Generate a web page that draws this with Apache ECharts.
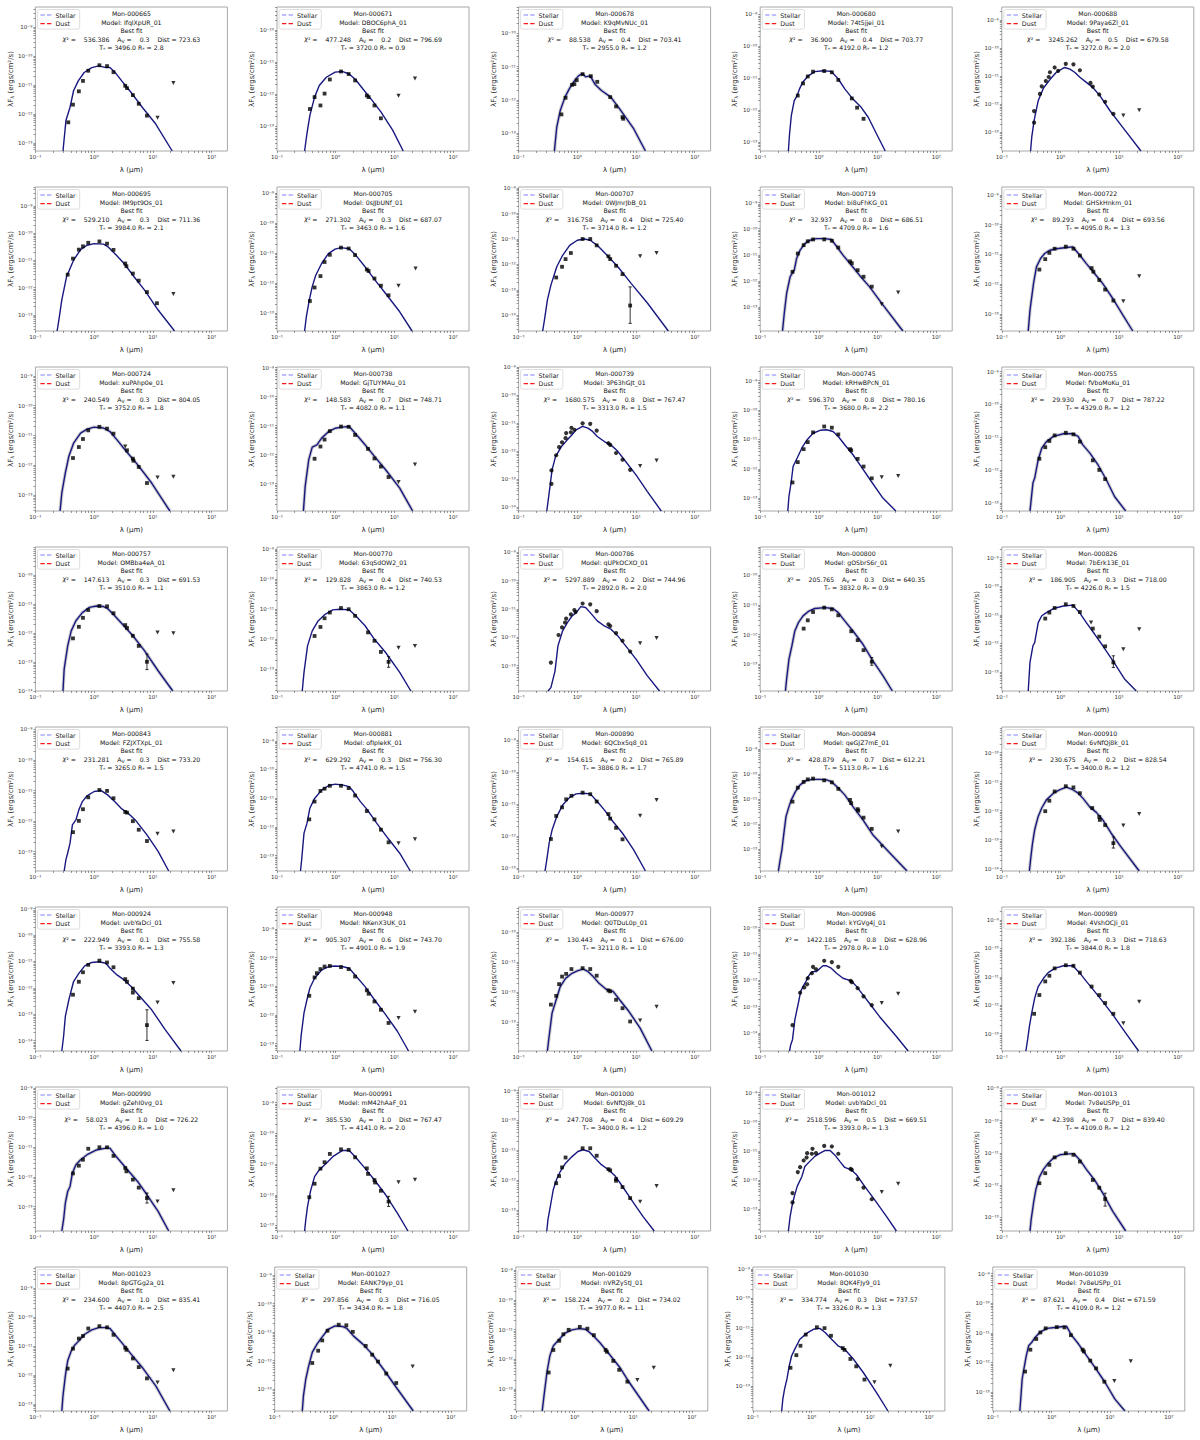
<!DOCTYPE html>
<html><head><meta charset="utf-8">
<script src="https://cdn.jsdelivr.net/npm/echarts@6/dist/echarts.min.js"></script>
<style>html,body{margin:0;padding:0;background:#fff}#c{width:1200px;height:1440px}</style>
</head><body><div id="c"></div>
<script>
// ---------- DATA (all fluxes / wavelengths are log10 values: log10(lambda/um), log10(lambda F_lambda / erg cm^-2 s^-1)) ----------
const ids = ['Mon-000665','Mon-000671','Mon-000678','Mon-000680','Mon-000688','Mon-000695','Mon-000705','Mon-000707','Mon-000719','Mon-000722',
'Mon-000724','Mon-000738','Mon-000739','Mon-000745','Mon-000755','Mon-000757','Mon-000770','Mon-000786','Mon-000800','Mon-000826',
'Mon-000843','Mon-000881','Mon-000890','Mon-000894','Mon-000910','Mon-000924','Mon-000948','Mon-000977','Mon-000986','Mon-000989',
'Mon-000990','Mon-000991','Mon-001000','Mon-001012','Mon-001013','Mon-001023','Mon-001027','Mon-001029','Mon-001030','Mon-001039'];
const models = ['IfqlXpUR_01','DBOC6phA_01','K9qMvNUc_01','74t5jjei_01','9Paya6Zl_01','IM9pt9Os_01','0sJJbUNf_01','0WJmrJbB_01','bi8uFhKG_01','GHSkHnkm_01',
'xuPAhp0e_01','GjTUYMAu_01','3P63hGJt_01','kRHwBPcN_01','fVboMoKu_01','OMBba4eA_01','63qSdOW2_01','qUPkOCXO_01','gOSbrS6r_01','7bErk13E_01',
'FZJXTXpL_01','ofIpIekK_01','6QCbx5q8_01','qeGJZ7mE_01','6vNfQj8k_01','uvbYaDci_01','NKenX3UK_01','Q0TDuL0p_01','kYGVg4j_01','4VshOCJi_01',
'gZehI0vg_01','mM42hAaF_01','6vNfQj8k_01','uvbYaDci_01','7v8eUSPp_01','8pGTGg2a_01','EANK79yp_01','nVRZy5tJ_01','8QK4FJy9_01','7v8eUSPp_01'];
const chi2 = [536.386,477.248,88.538,36.900,3245.262,529.210,271.302,316.758,32.937,89.293,
240.549,148.583,1680.575,596.370,29.930,147.613,129.828,5297.889,205.765,186.905,
231.281,629.292,154.615,428.879,230.675,222.949,905.307,130.443,1422.185,392.186,
58.023,385.530,247.708,2518.596,42.398,234.600,297.856,158.224,334.774,87.621];
const av = [0.3,0.2,0.4,0.4,0.5,0.3,0.3,0.4,0.8,0.4, 0.3,0.7,0.8,0.8,0.7,0.3,0.4,0.2,0.3,0.3,
0.3,0.3,0.2,0.7,0.2,0.1,0.6,0.1,0.8,0.3, 1.0,1.0,0.4,0.5,0.7,1.0,0.3,0.2,0.3,0.4];
const dist = [723.63,796.69,703.41,703.77,679.58,711.36,687.07,725.40,686.51,693.56,
804.05,748.71,767.47,780.16,787.22,691.53,740.53,744.96,640.35,718.00,
733.20,756.30,765.89,612.21,828.54,755.58,743.70,676.00,628.96,718.63,
726.22,767.47,609.29,669.51,839.40,835.41,716.05,734.02,737.57,671.59];
const teff = [3496,3720,2955,4192,3272,3984,3463,3714,4709,4095, 3752,4082,3313,3680,4329,3510,3863,2892,3832,4226,
3265,4741,3886,5113,3400,3393,4901,3211,2978,3844, 4396,4141,3400,3393,4109,4407,3434,3977,3326,4109];
const rstar = [2.8,0.9,1.2,1.2,2.0,2.1,1.6,1.2,1.6,1.3, 1.8,1.1,1.5,2.2,1.2,1.1,1.2,2.0,0.9,1.5,
1.5,1.5,1.7,1.6,1.2,1.3,1.9,1.0,1.0,1.8, 1.0,2.0,1.2,1.3,1.2,2.5,1.8,1.1,1.3,1.2];
// y-axis limits (log10 lambda F_lambda)
const yTop = [-8.31,-9.28,-9.21,-8.77,-8.54,-8.30,-8.80,-8.96,-8.40,-8.74, -8.70,-8.98,-8.99,-8.54,-8.86,-9.02,-8.94,-8.82,-9.04,-8.63,
-8.92,-8.52,-8.59,-8.11,-9.12,-8.94,-8.23,-9.17,-9.22,-8.54, -8.97,-8.49,-8.88,-8.81,-8.96,-8.26,-8.72,-8.89,-8.94,-8.78];
const yBottom = [-13.28,-13.77,-13.54,-13.29,-13.66,-13.59,-13.60,-14.61,-13.92,-13.57, -13.54,-13.94,-14.13,-13.43,-13.24,-14.00,-13.73,-13.89,-13.91,-13.66,
-13.63,-13.54,-13.09,-13.86,-14.08,-14.39,-13.26,-13.95,-14.68,-13.61, -13.82,-13.18,-13.70,-13.75,-13.42,-13.25,-13.76,-13.75,-13.84,-13.64];
// x-axis ticks (log10 lambda)
const xTickValues = [-1,0,1,2];
// best-fit model SEDs
const fitCurves = [
[[-0.53,-13.28],[-0.48,-12.23],[-0.41,-11.77],[-0.35,-11.2],[-0.27,-10.86],[-0.17,-10.57],[-0.04,-10.4],[0.08,-10.34],[0.2,-10.4],[0.27,-10.4],[0.35,-10.55],[0.47,-10.86],[0.63,-11.26],[0.82,-11.77],[1.05,-12.35],[1.33,-13.28]],
[[-0.53,-13.77],[-0.49,-13.23],[-0.44,-12.66],[-0.36,-12.09],[-0.28,-11.73],[-0.16,-11.47],[-0.01,-11.31],[0.11,-11.29],[0.23,-11.37],[0.34,-11.55],[0.46,-11.83],[0.62,-12.19],[0.77,-12.55],[0.97,-13.12],[1.15,-13.77]],
[[-0.39,-13.54],[-0.35,-12.82],[-0.29,-12.32],[-0.21,-11.92],[-0.13,-11.65],[-0.05,-11.43],[0.02,-11.28],[0.09,-11.21],[0.14,-11.31],[0.22,-11.28],[0.30,-11.53],[0.41,-11.72],[0.57,-11.92],[0.69,-12.2],[0.80,-12.47],[0.96,-12.87],[1.16,-13.54]],
[[-0.52,-13.29],[-0.5,-12.75],[-0.47,-12.18],[-0.42,-11.71],[-0.37,-11.55],[-0.33,-11.34],[-0.28,-11.14],[-0.18,-10.93],[-0.07,-10.8],[0.07,-10.77],[0.21,-10.79],[0.33,-11.03],[0.44,-11.34],[0.58,-11.66],[0.72,-11.92],[0.84,-12.23],[0.98,-12.75],[1.13,-13.29]],
[[-0.51,-13.66],[-0.49,-13.17],[-0.45,-12.58],[-0.38,-11.87],[-0.29,-11.42],[-0.18,-11.12],[-0.07,-10.86],[0.07,-10.69],[0.16,-10.75],[0.24,-10.86],[0.33,-11.04],[0.44,-11.22],[0.55,-11.4],[0.67,-11.69],[0.84,-12.22],[1.06,-12.82],[1.37,-13.66]],
[[-0.63,-13.59],[-0.6,-13.18],[-0.55,-12.45],[-0.47,-11.6],[-0.35,-10.99],[-0.23,-10.6],[-0.12,-10.44],[0.0,-10.38],[0.16,-10.4],[0.24,-10.5],[0.35,-10.74],[0.51,-11.11],[0.66,-11.54],[0.86,-12.09],[1.09,-12.82],[1.37,-13.59]],
[[-0.53,-13.6],[-0.5,-13.12],[-0.45,-12.57],[-0.4,-12.12],[-0.34,-11.74],[-0.24,-11.35],[-0.125,-11.02],[-0.01,-10.87],[0.09,-10.82],[0.23,-10.86],[0.34,-11.07],[0.5,-11.46],[0.66,-11.88],[0.85,-12.35],[1.09,-12.96],[1.3,-13.6]],
[[-0.59,-14.61],[-0.56,-14.18],[-0.51,-13.4],[-0.45,-12.81],[-0.35,-12.09],[-0.25,-11.64],[-0.13,-11.25],[0.0,-11.05],[0.12,-11.0],[0.22,-11.05],[0.34,-11.25],[0.49,-11.6],[0.69,-12.09],[0.92,-12.75],[1.2,-13.53],[1.55,-14.61]],
[[-0.62,-13.92],[-0.59,-13.24],[-0.55,-12.48],[-0.49,-11.84],[-0.42,-11.59],[-0.38,-11.14],[-0.32,-10.82],[-0.24,-10.57],[-0.15,-10.44],[-0.04,-10.38],[0.1,-10.38],[0.21,-10.41],[0.3,-10.67],[0.41,-11.01],[0.55,-11.39],[0.69,-11.78],[0.86,-12.22],[1.09,-12.92],[1.43,-13.92]],
[[-0.55,-13.57],[-0.52,-12.87],[-0.46,-11.98],[-0.41,-11.42],[-0.34,-11.14],[-0.27,-10.97],[-0.18,-10.86],[-0.07,-10.81],[0.1,-10.77],[0.21,-10.75],[0.33,-11.03],[0.44,-11.31],[0.58,-11.64],[0.72,-11.98],[0.89,-12.48],[1.06,-13.03],[1.23,-13.57]],
[[-0.58,-13.54],[-0.55,-12.93],[-0.49,-12.26],[-0.43,-11.7],[-0.35,-11.26],[-0.23,-10.92],[-0.12,-10.79],[0.0,-10.72],[0.16,-10.75],[0.27,-10.87],[0.39,-11.15],[0.55,-11.54],[0.74,-11.98],[0.98,-12.6],[1.29,-13.54]],
[[-0.55,-13.94],[-0.52,-13.09],[-0.46,-12.18],[-0.4,-11.74],[-0.32,-11.66],[-0.24,-11.43],[-0.12,-11.2],[-0.01,-11.09],[0.11,-11.05],[0.23,-11.03],[0.34,-11.28],[0.5,-11.66],[0.66,-12.06],[0.85,-12.52],[1.09,-13.15],[1.31,-13.94]],
[[-0.52,-14.13],[-0.48,-13.49],[-0.43,-12.66],[-0.37,-12.18],[-0.27,-11.83],[-0.17,-11.59],[-0.09,-11.41],[-0.02,-11.23],[0.09,-11.11],[0.18,-11.17],[0.26,-11.29],[0.34,-11.47],[0.46,-11.65],[0.57,-11.77],[0.69,-12.0],[0.8,-12.3],[1.0,-12.84],[1.19,-13.43],[1.43,-14.13]],
[[-0.53,-13.43],[-0.51,-12.93],[-0.47,-12.42],[-0.44,-11.92],[-0.37,-11.63],[-0.29,-11.29],[-0.2,-11.01],[-0.1,-10.79],[0.02,-10.69],[0.13,-10.67],[0.24,-10.73],[0.33,-10.9],[0.44,-11.18],[0.58,-11.52],[0.72,-11.92],[0.89,-12.42],[1.09,-12.99],[1.31,-13.43]],
[[-0.52,-13.24],[-0.5,-12.9],[-0.47,-12.39],[-0.44,-12.24],[-0.38,-11.68],[-0.32,-11.33],[-0.24,-11.13],[-0.12,-10.97],[0.05,-10.89],[0.21,-10.89],[0.3,-10.97],[0.38,-11.23],[0.5,-11.48],[0.64,-11.84],[0.78,-12.29],[0.92,-12.8],[1.11,-13.24]],
[[-0.53,-14.0],[-0.51,-13.24],[-0.45,-12.44],[-0.39,-11.92],[-0.31,-11.57],[-0.2,-11.29],[-0.08,-11.11],[0.04,-11.06],[0.16,-11.08],[0.23,-11.15],[0.35,-11.4],[0.51,-11.75],[0.66,-12.09],[0.86,-12.61],[1.09,-13.3],[1.34,-14.0]],
[[-0.57,-13.73],[-0.54,-13.11],[-0.48,-12.23],[-0.4,-11.73],[-0.3,-11.4],[-0.18,-11.18],[-0.05,-11.03],[0.07,-11.01],[0.23,-11.03],[0.34,-11.23],[0.5,-11.56],[0.66,-12.01],[0.85,-12.45],[1.09,-13.11],[1.28,-13.73]],
[[-0.5,-13.89],[-0.45,-13.77],[-0.38,-13.19],[-0.33,-12.3],[-0.25,-11.77],[-0.17,-11.48],[-0.09,-11.25],[-0.02,-11.13],[0.06,-10.92],[0.14,-10.95],[0.22,-11.13],[0.34,-11.42],[0.46,-11.6],[0.57,-11.71],[0.69,-11.95],[0.8,-12.24],[1.0,-12.77],[1.19,-13.35],[1.4,-13.89]],
[[-0.57,-13.91],[-0.55,-13.51],[-0.51,-12.83],[-0.46,-12.38],[-0.41,-11.88],[-0.35,-11.6],[-0.27,-11.37],[-0.18,-11.22],[-0.07,-11.12],[0.1,-11.09],[0.24,-11.12],[0.33,-11.26],[0.44,-11.54],[0.58,-11.88],[0.75,-12.33],[0.92,-12.89],[1.09,-13.39],[1.25,-13.91]],
[[-0.55,-13.66],[-0.52,-12.66],[-0.47,-12.08],[-0.44,-11.97],[-0.38,-11.27],[-0.32,-11.03],[-0.24,-10.92],[-0.12,-10.78],[0.05,-10.69],[0.21,-10.66],[0.33,-10.94],[0.44,-11.27],[0.58,-11.67],[0.72,-12.08],[0.89,-12.6],[1.09,-13.24],[1.29,-13.66]],
[[-0.51,-13.63],[-0.48,-13.26],[-0.45,-13.04],[-0.41,-12.72],[-0.37,-12.12],[-0.31,-11.96],[-0.26,-11.63],[-0.2,-11.36],[-0.12,-11.17],[0.0,-11.03],[0.12,-11.0],[0.23,-11.14],[0.35,-11.36],[0.46,-11.58],[0.58,-11.74],[0.7,-11.96],[0.9,-12.45],[1.09,-12.99],[1.27,-13.63]],
[[-0.6,-13.54],[-0.58,-13.15],[-0.54,-12.22],[-0.49,-11.88],[-0.44,-11.35],[-0.36,-11.01],[-0.24,-10.72],[-0.12,-10.56],[-0.01,-10.51],[0.11,-10.54],[0.23,-10.6],[0.3,-10.77],[0.42,-11.12],[0.54,-11.41],[0.7,-11.88],[0.89,-12.4],[1.09,-12.92],[1.27,-13.54]],
[[-0.55,-13.09],[-0.52,-12.74],[-0.48,-12.22],[-0.43,-11.81],[-0.35,-11.39],[-0.25,-11.03],[-0.13,-10.79],[-0.02,-10.68],[0.1,-10.66],[0.22,-10.68],[0.34,-10.92],[0.46,-11.18],[0.61,-11.55],[0.77,-11.91],[0.96,-12.43],[1.16,-13.09]],
[[-0.69,-13.86],[-0.66,-13.41],[-0.63,-13.01],[-0.6,-12.42],[-0.56,-11.68],[-0.51,-11.29],[-0.47,-11.02],[-0.4,-10.69],[-0.32,-10.42],[-0.23,-10.26],[-0.12,-10.2],[0.02,-10.2],[0.13,-10.22],[0.21,-10.29],[0.33,-10.55],[0.44,-10.82],[0.58,-11.29],[0.75,-11.82],[0.92,-12.42],[1.2,-13.12],[1.5,-13.86]],
[[-0.53,-14.08],[-0.51,-13.69],[-0.48,-13.17],[-0.44,-12.66],[-0.38,-12.2],[-0.32,-11.91],[-0.24,-11.63],[-0.12,-11.4],[-0.01,-11.28],[0.1,-11.19],[0.21,-11.28],[0.3,-11.4],[0.38,-11.57],[0.5,-11.88],[0.61,-12.06],[0.72,-12.32],[0.86,-12.77],[1.03,-13.25],[1.34,-14.08]],
[[-0.55,-14.39],[-0.52,-13.84],[-0.49,-13.08],[-0.43,-12.45],[-0.35,-11.76],[-0.26,-11.45],[-0.16,-11.17],[-0.04,-11.04],[0.08,-11.01],[0.2,-11.07],[0.27,-11.26],[0.39,-11.51],[0.51,-11.7],[0.63,-11.95],[0.78,-12.33],[0.98,-12.83],[1.21,-13.58],[1.48,-14.39]],
[[-0.61,-13.26],[-0.59,-12.74],[-0.54,-11.93],[-0.49,-11.47],[-0.44,-11.06],[-0.36,-10.72],[-0.24,-10.43],[-0.12,-10.31],[-0.01,-10.29],[0.11,-10.31],[0.23,-10.37],[0.34,-10.63],[0.5,-11.01],[0.66,-11.47],[0.85,-11.99],[1.05,-12.57],[1.24,-13.26]],
[[-0.51,-13.95],[-0.48,-13.46],[-0.43,-12.69],[-0.36,-12.25],[-0.29,-11.81],[-0.2,-11.54],[-0.09,-11.37],[0.01,-11.28],[0.1,-11.23],[0.18,-11.31],[0.27,-11.48],[0.37,-11.7],[0.49,-11.9],[0.61,-11.97],[0.72,-12.25],[0.88,-12.64],[1.07,-13.19],[1.27,-13.95]],
[[-0.5,-14.68],[-0.48,-14.44],[-0.45,-14.25],[-0.41,-13.5],[-0.35,-12.86],[-0.31,-12.42],[-0.27,-12.23],[-0.22,-12.04],[-0.18,-11.85],[-0.14,-11.73],[-0.1,-11.67],[-0.04,-11.67],[0.02,-11.54],[0.07,-11.45],[0.13,-11.45],[0.21,-11.54],[0.3,-11.73],[0.41,-11.92],[0.55,-12.02],[0.64,-12.23],[0.75,-12.55],[0.86,-12.87],[1.03,-13.37],[1.32,-14.13],[1.52,-14.68]],
[[-0.59,-13.61],[-0.56,-13.21],[-0.53,-12.74],[-0.49,-12.27],[-0.44,-11.75],[-0.38,-11.34],[-0.29,-11.05],[-0.21,-10.85],[-0.1,-10.7],[0.05,-10.61],[0.21,-10.61],[0.33,-10.87],[0.44,-11.16],[0.58,-11.51],[0.72,-11.87],[0.89,-12.33],[1.09,-12.92],[1.33,-13.61]],
[[-0.55,-13.82],[-0.52,-13.44],[-0.49,-12.88],[-0.45,-12.49],[-0.41,-12.32],[-0.37,-11.87],[-0.31,-11.59],[-0.23,-11.42],[-0.12,-11.25],[0.04,-11.09],[0.2,-11.03],[0.27,-11.03],[0.35,-11.25],[0.47,-11.53],[0.59,-11.81],[0.74,-12.15],[0.9,-12.6],[1.09,-13.16],[1.27,-13.82]],
[[-0.53,-13.18],[-0.51,-12.82],[-0.48,-12.38],[-0.43,-11.89],[-0.36,-11.41],[-0.28,-11.19],[-0.16,-10.97],[-0.05,-10.76],[0.11,-10.56],[0.23,-10.56],[0.34,-10.78],[0.5,-11.14],[0.66,-11.52],[0.85,-12.0],[1.05,-12.6],[1.23,-13.18]],
[[-0.52,-13.7],[-0.5,-13.32],[-0.46,-12.88],[-0.41,-12.32],[-0.35,-11.96],[-0.29,-11.71],[-0.2,-11.43],[-0.09,-11.21],[0.01,-11.04],[0.1,-10.98],[0.2,-11.04],[0.3,-11.26],[0.41,-11.48],[0.53,-11.65],[0.65,-11.87],[0.77,-12.21],[0.92,-12.65],[1.12,-13.22],[1.31,-13.7]],
[[-0.52,-13.75],[-0.49,-13.25],[-0.46,-12.91],[-0.42,-12.57],[-0.37,-12.22],[-0.29,-11.88],[-0.24,-11.54],[-0.16,-11.37],[-0.07,-11.19],[0.02,-11.08],[0.1,-10.99],[0.19,-10.99],[0.27,-11.14],[0.36,-11.37],[0.44,-11.57],[0.55,-11.65],[0.64,-11.82],[0.78,-12.22],[0.95,-12.68],[1.15,-13.25],[1.32,-13.75]],
[[-0.52,-13.42],[-0.5,-13.07],[-0.46,-12.56],[-0.42,-12.14],[-0.36,-11.75],[-0.29,-11.51],[-0.21,-11.32],[-0.12,-11.16],[-0.01,-11.06],[0.13,-11.03],[0.23,-11.03],[0.33,-11.22],[0.44,-11.51],[0.58,-11.84],[0.72,-12.25],[0.89,-12.81],[1.11,-13.42]],
[[-0.55,-13.25],[-0.53,-12.72],[-0.49,-12.03],[-0.45,-11.51],[-0.39,-11.17],[-0.34,-10.99],[-0.26,-10.82],[-0.16,-10.59],[-0.04,-10.44],[0.08,-10.36],[0.2,-10.36],[0.27,-10.39],[0.35,-10.59],[0.47,-10.88],[0.63,-11.28],[0.82,-11.74],[1.05,-12.38],[1.29,-13.25]],
[[-0.53,-13.76],[-0.51,-13.22],[-0.47,-12.64],[-0.42,-12.17],[-0.36,-11.71],[-0.28,-11.42],[-0.2,-11.19],[-0.09,-10.9],[0.03,-10.78],[0.15,-10.8],[0.23,-10.87],[0.34,-11.13],[0.5,-11.42],[0.66,-11.77],[0.85,-12.29],[1.09,-12.99],[1.36,-13.76]],
[[-0.55,-13.75],[-0.52,-13.24],[-0.47,-12.45],[-0.42,-11.89],[-0.36,-11.55],[-0.26,-11.33],[-0.16,-11.12],[-0.04,-11.01],[0.07,-10.97],[0.19,-10.99],[0.31,-11.19],[0.43,-11.44],[0.58,-11.8],[0.78,-12.3],[0.91,-12.72],[1.27,-13.75]],
[[-0.51,-13.84],[-0.49,-13.43],[-0.46,-13.09],[-0.42,-12.75],[-0.38,-12.3],[-0.34,-11.96],[-0.28,-11.71],[-0.2,-11.4],[-0.08,-11.19],[0.03,-11.06],[0.14,-11.03],[0.23,-11.17],[0.34,-11.4],[0.45,-11.62],[0.56,-11.73],[0.71,-12.07],[0.88,-12.53],[1.1,-13.2],[1.3,-13.84]],
[[-0.54,-13.64],[-0.52,-13.12],[-0.5,-12.56],[-0.47,-12.22],[-0.43,-11.78],[-0.39,-11.44],[-0.34,-11.33],[-0.28,-11.16],[-0.2,-10.99],[-0.08,-10.85],[0.06,-10.82],[0.2,-10.79],[0.26,-10.79],[0.34,-11.08],[0.46,-11.38],[0.6,-11.78],[0.74,-12.17],[0.91,-12.67],[1.08,-13.24],[1.25,-13.64]]
];
// observed photometry
const photometry = [
[[-0.44,-12.29],[-0.36,-11.68],[-0.26,-11.22],[-0.19,-10.86],[-0.10,-10.51],[0.09,-10.32],[0.22,-10.35],[0.33,-10.56],[0.53,-11.03],[0.56,-11.11],[0.66,-11.35],[0.76,-11.65],[0.90,-12.06]],
[[-0.44,-12.46],[-0.36,-12.09],[-0.26,-12.35],[-0.19,-11.98],[-0.10,-11.54],[0.09,-11.29],[0.22,-11.37],[0.33,-11.57],[0.53,-12.04],[0.56,-12.09],[0.66,-12.35],[0.77,-12.75]],
[[-0.27,-12.44],[-0.20,-11.94],[-0.09,-11.55],[-0.05,-11.53],[-0.01,-11.41],[0.09,-11.23],[0.23,-11.29],[0.34,-11.46],[0.56,-11.92],[0.66,-12.2],[0.77,-12.52],[0.78,-12.57]],
[[-0.36,-11.55],[-0.27,-11.17],[-0.19,-10.95],[-0.10,-10.8],[0.09,-10.78],[0.22,-10.82],[0.33,-11.06],[0.56,-11.64],[0.65,-11.93],[0.76,-12.28]],
[[-0.45,-12.24],[-0.45,-12.65],[-0.35,-11.63],[-0.32,-11.36],[-0.25,-11.17],[-0.20,-11.03],[-0.18,-10.86],[-0.10,-10.69],[-0.04,-10.81],[0.09,-10.56],[0.22,-10.58],[0.33,-10.79],[0.51,-11.24],[0.55,-11.37],[0.66,-11.65],[0.76,-11.91],[0.90,-12.34]],
[[-0.45,-11.52],[-0.36,-10.93],[-0.26,-10.6],[-0.19,-10.48],[-0.10,-10.35],[0.09,-10.3],[0.22,-10.38],[0.33,-10.61],[0.53,-11.11],[0.55,-11.21],[0.66,-11.48],[0.76,-11.74],[0.90,-12.16],[1.07,-12.57]],
[[-0.44,-12.6],[-0.36,-12.15],[-0.26,-11.77],[-0.19,-11.3],[-0.10,-11.06],[0.09,-10.82],[0.22,-10.85],[0.33,-11.07],[0.53,-11.55],[0.56,-11.6],[0.66,-11.85],[0.77,-12.09],[0.90,-12.41]],
[[-0.36,-12.51],[-0.26,-12.09],[-0.20,-11.79],[-0.11,-11.55],[0.09,-11.0],[0.22,-11.0],[0.33,-11.25],[0.53,-11.68],[0.56,-11.79],[0.66,-12.05],[0.77,-12.38],[0.90,-13.61]],
[[-0.45,-11.65],[-0.36,-10.95],[-0.26,-10.63],[-0.19,-10.48],[-0.10,-10.41],[0.09,-10.41],[0.22,-10.46],[0.33,-10.72],[0.53,-11.25],[0.56,-11.32],[0.66,-11.59],[0.76,-11.84],[0.90,-12.22]],
[[-0.36,-11.51],[-0.26,-11.16],[-0.19,-10.95],[-0.10,-10.81],[0.09,-10.74],[0.22,-10.81],[0.33,-11.04],[0.53,-11.46],[0.56,-11.58],[0.66,-11.86],[0.76,-12.18],[0.90,-12.55]],
[[-0.36,-11.76],[-0.26,-11.39],[-0.19,-11.12],[-0.10,-10.83],[0.09,-10.71],[0.22,-10.77],[0.33,-10.94],[0.56,-11.5],[0.66,-11.78],[0.67,-11.85],[0.76,-12.06],[0.90,-12.6]],
[[-0.36,-12.14],[-0.26,-11.72],[-0.19,-11.48],[-0.10,-11.19],[0.09,-11.03],[0.22,-11.04],[0.33,-11.32],[0.55,-11.8],[0.66,-12.13],[0.77,-12.41],[0.90,-12.77]],
[[-0.44,-12.68],[-0.44,-13.16],[-0.36,-12.14],[-0.31,-11.85],[-0.26,-11.68],[-0.20,-11.53],[-0.19,-11.35],[-0.11,-11.32],[-0.10,-11.16],[-0.05,-11.23],[0.09,-11.0],[0.22,-11.02],[0.33,-11.26],[0.53,-11.71],[0.56,-11.77],[0.66,-12.06],[0.77,-12.3],[0.90,-12.66]],
[[-0.45,-12.46],[-0.36,-11.77],[-0.26,-11.33],[-0.19,-11.09],[-0.10,-10.76],[0.09,-10.56],[0.22,-10.6],[0.33,-10.83],[0.53,-11.33],[0.55,-11.37],[0.66,-11.66],[0.76,-11.92],[0.90,-12.32]],
[[-0.36,-11.65],[-0.26,-11.3],[-0.19,-11.11],[-0.10,-10.94],[0.09,-10.86],[0.22,-10.91],[0.33,-11.13],[0.55,-11.7],[0.66,-11.99],[0.76,-12.27]],
[[-0.36,-12.18],[-0.26,-11.78],[-0.19,-11.47],[-0.10,-11.2],[0.09,-11.06],[0.22,-11.07],[0.33,-11.31],[0.53,-11.72],[0.56,-11.82],[0.66,-12.09],[0.76,-12.44],[0.90,-12.99]],
[[-0.36,-11.9],[-0.26,-11.6],[-0.19,-11.31],[-0.10,-11.12],[0.09,-10.97],[0.22,-11.01],[0.33,-11.23],[0.55,-11.78],[0.66,-12.06],[0.77,-12.43],[0.90,-12.76]],
[[-0.45,-12.89],[-0.32,-11.92],[-0.26,-11.65],[-0.21,-11.48],[-0.19,-11.34],[-0.11,-11.19],[-0.05,-11.04],[-0.03,-11.11],[0.09,-10.81],[0.22,-10.84],[0.33,-11.08],[0.53,-11.54],[0.56,-11.6],[0.66,-11.85],[0.77,-12.12],[0.90,-12.5]],
[[-0.26,-11.8],[-0.19,-11.52],[-0.10,-11.24],[0.09,-11.09],[0.22,-11.15],[0.33,-11.35],[0.55,-11.89],[0.66,-12.19],[0.76,-12.53],[0.90,-12.92]],
[[-0.26,-11.13],[-0.19,-10.92],[-0.10,-10.76],[0.09,-10.63],[0.22,-10.69],[0.33,-10.9],[0.55,-11.48],[0.66,-11.76],[0.76,-12.1],[0.90,-12.66]],
[[-0.36,-12.36],[-0.26,-11.99],[-0.19,-11.61],[-0.10,-11.22],[0.09,-10.98],[0.22,-11.01],[0.33,-11.25],[0.53,-11.7],[0.56,-11.72],[0.66,-12.0],[0.76,-12.28],[0.90,-12.65]],
[[-0.45,-11.74],[-0.36,-11.12],[-0.26,-10.75],[-0.19,-10.67],[-0.10,-10.57],[0.09,-10.57],[0.22,-10.65],[0.33,-10.91],[0.53,-11.45],[0.66,-11.74],[0.77,-12.1],[0.90,-12.54]],
[[-0.45,-12.09],[-0.36,-11.37],[-0.26,-11.1],[-0.19,-10.85],[-0.10,-10.74],[0.09,-10.64],[0.22,-10.69],[0.33,-10.92],[0.53,-11.31],[0.56,-11.45],[0.66,-11.74],[0.77,-12.1]],
[[-0.45,-11.09],[-0.36,-10.53],[-0.26,-10.3],[-0.19,-10.2],[-0.10,-10.17],[0.09,-10.24],[0.22,-10.32],[0.33,-10.58],[0.53,-11.02],[0.55,-11.15],[0.66,-11.39],[0.67,-11.45],[0.76,-11.73],[0.90,-12.18]],
[[-0.26,-12.02],[-0.19,-11.66],[-0.10,-11.34],[0.09,-11.16],[0.22,-11.2],[0.33,-11.4],[0.54,-11.91],[0.66,-12.22],[0.67,-12.32],[0.76,-12.5],[0.90,-13.12]],
[[-0.36,-12.26],[-0.26,-11.77],[-0.19,-11.41],[-0.10,-11.13],[0.09,-10.97],[0.22,-11.04],[0.33,-11.22],[0.53,-11.67],[0.56,-11.77],[0.66,-12.03],[0.66,-12.18],[0.76,-12.39],[0.90,-13.41]],
[[-0.45,-11.33],[-0.36,-10.69],[-0.32,-10.54],[-0.26,-10.4],[-0.19,-10.31],[-0.10,-10.29],[0.09,-10.33],[0.22,-10.4],[0.33,-10.66],[0.53,-11.14],[0.56,-11.26],[0.66,-11.53],[0.77,-11.82],[0.90,-12.28]],
[[-0.45,-12.41],[-0.36,-12.12],[-0.31,-11.73],[-0.26,-11.48],[-0.19,-11.39],[-0.10,-11.23],[0.09,-11.2],[0.22,-11.23],[0.33,-11.45],[0.53,-11.94],[0.56,-11.97],[0.66,-12.25],[0.77,-12.53],[0.90,-12.97]],
[[-0.45,-13.7],[-0.32,-12.47],[-0.25,-12.27],[-0.20,-12.15],[-0.19,-11.92],[-0.12,-11.73],[-0.10,-11.49],[-0.05,-11.58],[0.09,-11.26],[0.22,-11.31],[0.33,-11.49],[0.54,-12.02],[0.56,-12.07],[0.66,-12.3],[0.76,-12.61],[0.90,-12.94]],
[[-0.45,-12.3],[-0.36,-11.64],[-0.26,-11.16],[-0.19,-10.96],[-0.10,-10.7],[0.09,-10.59],[0.22,-10.61],[0.33,-10.85],[0.53,-11.34],[0.66,-11.64],[0.76,-11.92],[0.90,-12.3]],
[[-0.36,-11.88],[-0.26,-11.62],[-0.19,-11.42],[-0.10,-11.05],[0.09,-11.0],[0.22,-11.0],[0.33,-11.29],[0.53,-11.7],[0.55,-11.81],[0.66,-12.09],[0.76,-12.36],[0.90,-12.71]],
[[-0.45,-12.08],[-0.36,-11.64],[-0.26,-11.15],[-0.19,-10.94],[-0.10,-10.67],[0.09,-10.52],[0.22,-10.54],[0.33,-10.78],[0.53,-11.14],[0.55,-11.32],[0.66,-11.52],[0.67,-11.6],[0.77,-11.87],[0.90,-12.22]],
[[-0.36,-12.1],[-0.31,-11.86],[-0.26,-11.57],[-0.20,-11.24],[0.09,-10.93],[0.22,-10.93],[0.33,-11.18],[0.53,-11.63],[0.56,-11.67],[0.66,-11.96],[0.66,-12.02],[0.77,-12.23],[0.90,-12.6]],
[[-0.45,-12.45],[-0.45,-12.77],[-0.36,-11.73],[-0.32,-11.56],[-0.26,-11.33],[-0.21,-11.23],[-0.20,-11.08],[-0.11,-10.93],[-0.12,-11.1],[-0.05,-11.08],[0.09,-10.83],[0.22,-10.85],[0.33,-11.1],[0.54,-11.62],[0.56,-11.65],[0.66,-11.97],[0.76,-12.26],[0.90,-12.66]],
[[-0.36,-11.94],[-0.26,-11.63],[-0.19,-11.37],[-0.10,-11.14],[0.09,-11.01],[0.22,-11.06],[0.33,-11.27],[0.55,-11.84],[0.66,-12.08],[0.76,-12.43]],
[[-0.45,-11.78],[-0.36,-11.09],[-0.26,-10.74],[-0.19,-10.65],[-0.10,-10.39],[0.09,-10.31],[0.22,-10.35],[0.33,-10.61],[0.53,-11.06],[0.55,-11.13],[0.66,-11.43],[0.76,-11.73],[0.90,-12.12]],
[[-0.36,-12.08],[-0.26,-11.65],[-0.19,-11.29],[-0.10,-10.95],[0.09,-10.74],[0.22,-10.76],[0.33,-10.99],[0.55,-11.48],[0.66,-11.79],[0.76,-12.03],[0.90,-12.45],[1.07,-12.78]],
[[-0.44,-12.45],[-0.36,-11.69],[-0.26,-11.38],[-0.19,-11.16],[-0.10,-11.01],[0.09,-10.91],[0.22,-10.97],[0.33,-11.19],[0.53,-11.69],[0.55,-11.75],[0.66,-12.06],[0.76,-12.36],[0.90,-12.76]],
[[-0.36,-12.37],[-0.26,-11.94],[-0.19,-11.62],[-0.10,-11.24],[0.09,-10.99],[0.22,-11.02],[0.33,-11.28],[0.53,-11.7],[0.56,-11.76],[0.66,-12.07],[0.76,-12.32],[0.90,-12.77]],
[[-0.45,-12.31],[-0.36,-11.57],[-0.26,-11.21],[-0.19,-10.99],[-0.10,-10.85],[0.09,-10.81],[0.22,-10.82],[0.33,-11.08],[0.53,-11.57],[0.55,-11.63],[0.66,-11.94],[0.76,-12.2],[0.90,-12.65]]
];
// upper limits (down triangles)
const upperLimits = [
[[1.08,-12.13],[1.35,-10.93]],[[1.07,-12.05],[1.35,-11.51]],[],[],[[1.07,-12.4],[1.34,-12.21]],
[[1.35,-12.23]],[[1.07,-12.09],[1.36,-11.52]],[[1.07,-11.68],[1.35,-11.55]],[[1.07,-12.89],[1.35,-12.44]],[[1.07,-12.57],[1.34,-11.73]],
[[0.53,-11.37],[1.08,-12.41],[1.35,-12.39]],[[1.07,-12.94],[1.35,-12.34]],[[1.07,-12.52],[1.35,-12.33]],[[1.07,-12.28],[1.35,-12.24]],[],
[[1.08,-11.98],[1.35,-12.0]],[[1.07,-12.29],[1.35,-12.23]],[[1.07,-12.21],[1.35,-12.02]],[],[[0.52,-11.27],[1.07,-12.2],[1.34,-11.5]],
[[1.08,-12.41],[1.35,-12.34]],[[1.07,-12.57],[1.35,-12.43]],[[1.07,-11.36],[1.35,-10.87]],[[1.07,-12.88],[1.35,-12.28]],[[1.07,-12.51],[1.34,-12.12]],
[[1.08,-12.55],[1.35,-11.82]],[[1.07,-12.11],[1.35,-11.89]],[[1.07,-12.94],[1.35,-12.48]],[[1.07,-12.86],[1.35,-12.51]],[[1.07,-12.63],[1.34,-11.88]],
[[1.08,-12.83],[1.35,-12.45]],[[1.07,-11.59],[1.35,-11.51]],[[1.07,-12.72],[1.35,-12.19]],[[1.07,-12.41],[1.35,-12.13]],[],
[[1.08,-12.26],[1.35,-11.84]],[[1.35,-12.2]],[[1.07,-12.7],[1.35,-12.29]],[[1.07,-12.86],[1.34,-12.3]],[[1.07,-12.63],[1.35,-11.96]]
];
// error bars [log lambda, upper, lower]
const errorBars = [
[],[],[],[],[], [],[],[[0.90,-12.88,-14.31]],[],[],
[],[],[],[],[], [[0.90,-12.72,-13.26]],[[0.90,-12.59,-12.94]],[],[[0.90,-12.78,-13.04]],[[0.90,-12.43,-12.84]],
[],[],[],[],[[0.90,-12.91,-13.29]], [[0.90,-12.83,-13.99]],[],[],[],[],
[[0.90,-12.54,-12.88]],[[0.90,-12.05,-12.38]],[],[],[[0.76,-12.25,-12.65]], [],[],[],[],[]
];
// panels where the grey family of alternative fits is visible; panels plotted with round markers
const greyFitPanels = [2,8,9,10,11,14,15,18,23,24,27,30,34,35,36,37,39];
const roundMarkerPanels = [4,12,17,28,33];

// ---------- CHART ----------
const chart = echarts.init(document.getElementById('c'), null, {renderer: 'svg'});
const FONT = 'DejaVu Sans';
const X_MIN = -1, X_MAX = 2.27;
const PW = 192, PH = 144;
const lastRowShift = [0, -2.3, -2.8, -7.3, -9];
const SUP = {'-':'\u207B','0':'\u2070','1':'\u00B9','2':'\u00B2','3':'\u00B3','4':'\u2074','5':'\u2075','6':'\u2076','7':'\u2077','8':'\u2078','9':'\u2079'};
const pow10 = v => '10' + String(Math.round(v)).split('').map(ch => SUP[ch]).join('');
const DASH_ICON = 'path://M0,0H4.2V1H0Z M6.3,0H10.5V1H6.3Z';
function tickSet(lo, hi) {
  const major = [], minor = [];
  for (let d = Math.floor(lo) - 1; d <= Math.ceil(hi); d++) {
    if (d >= lo - 1e-9 && d <= hi + 1e-9) major.push(d);
    for (let k = 2; k < 10; k++) { const v = d + Math.log10(k); if (v > lo && v < hi) minor.push(v); }
  }
  return {major, minor};
}
const grids = [], xAxes = [], yAxes = [], series = [], titles = [], legends = [];
const xt = tickSet(X_MIN, X_MAX);
const richText = {
  s: {fontSize: 4.6, lineHeight: 5, verticalAlign: 'bottom', fontFamily: FONT, color: '#111'},
  i: {fontSize: 6.4, lineHeight: 8.6, fontStyle: 'italic', fontFamily: FONT, color: '#111'}
};
ids.forEach((id, i) => {
  const c = i % 5, r = Math.floor(i / 5);
  let left = 35.4 + 241.6 * c;
  if (r === 7) left += lastRowShift[c];
  const top = 7 + 180 * r;
  grids.push({left, top, width: PW, height: PH, show: true, borderColor: '#a8a8a8', borderWidth: 1, backgroundColor: 'transparent'});
  xAxes.push({
    type: 'value', gridIndex: i, min: X_MIN, max: X_MAX, position: 'bottom',
    axisLine: {show: false, onZero: false}, splitLine: {show: false},
    axisTick: {show: true, customValues: xt.major.concat(xt.minor), length: 2, lineStyle: {color: '#555', width: 0.6}},
    axisLabel: {customValues: xTickValues, formatter: pow10, fontSize: 5.5, color: '#333', margin: 3, fontFamily: FONT},
    name: '\u03BB (\u03BCm)', nameLocation: 'middle', nameGap: 15,
    nameTextStyle: {fontSize: 7, color: '#222', fontFamily: FONT}
  });
  const yt = tickSet(yBottom[i], yTop[i]);
  yAxes.push({
    type: 'value', gridIndex: i, min: yBottom[i], max: yTop[i], position: 'left',
    axisLine: {show: false, onZero: false}, splitLine: {show: false},
    axisTick: {show: true, customValues: yt.major.concat(yt.minor), length: 2, lineStyle: {color: '#555', width: 0.6}},
    axisLabel: {customValues: yt.major, formatter: pow10, fontSize: 5.5, color: '#333', margin: 3, fontFamily: FONT},
    name: '\u03BBF{s|\u03BB} (ergs/cm\u00B2/s)', nameLocation: 'middle', nameGap: 20, nameRotate: 90,
    nameTextStyle: {fontSize: 7, color: '#222', fontFamily: FONT, rich: {s: {fontSize: 5, verticalAlign: 'bottom', lineHeight: 6, fontFamily: FONT, color: '#222'}}}
  });
  if (greyFitPanels.includes(i)) {
    series.push({type: 'line', xAxisIndex: i, yAxisIndex: i, data: fitCurves[i], symbol: 'none', silent: true,
      lineStyle: {color: '#cfcfcf', width: 3.4}, z: 1});
  }
  series.push({type: 'line', xAxisIndex: i, yAxisIndex: i, data: fitCurves[i], symbol: 'none', silent: true,
    lineStyle: {color: '#181880', width: 1.4}, z: 3});
  series.push({type: 'scatter', xAxisIndex: i, yAxisIndex: i, data: photometry[i],
    symbol: roundMarkerPanels.includes(i) ? 'circle' : 'rect', symbolSize: roundMarkerPanels.includes(i) ? 4.2 : 3.8,
    itemStyle: {color: '#000'}, silent: true, z: 4});
  if (upperLimits[i].length) {
    series.push({type: 'scatter', xAxisIndex: i, yAxisIndex: i, data: upperLimits[i], symbol: 'triangle', symbolRotate: 180,
      symbolSize: [4.2, 4], itemStyle: {color: '#000'}, silent: true, z: 4});
  }
  if (errorBars[i].length) {
    series.push({type: 'custom', xAxisIndex: i, yAxisIndex: i, data: errorBars[i], silent: true, z: 4,
      renderItem: (params, api) => {
        const hi = api.coord([api.value(0), api.value(1)]);
        const lo = api.coord([api.value(0), api.value(2)]);
        const st = {stroke: '#000', lineWidth: 0.8};
        return {type: 'group', children: [
          {type: 'line', shape: {x1: hi[0], y1: hi[1], x2: lo[0], y2: lo[1]}, style: st},
          {type: 'line', shape: {x1: hi[0] - 1.6, y1: hi[1], x2: hi[0] + 1.6, y2: hi[1]}, style: st},
          {type: 'line', shape: {x1: lo[0] - 1.6, y1: lo[1], x2: lo[0] + 1.6, y2: lo[1]}, style: st}
        ]};
      }});
  }
  const lines = [
    id,
    'Model: ' + models[i],
    'Best fit',
    '{i|\u03C7}\u00B2 =    ' + chi2[i].toFixed(3) + '    A{s|V} =    ' + av[i].toFixed(1) + '    Dist = ' + dist[i].toFixed(2),
    'T{s|*} = ' + teff[i].toFixed(1) + ' R{s|*} = ' + rstar[i].toFixed(1)
  ];
  titles.push({
    text: lines.join('\n'), left: left + PW / 2, top: top + 2.3, textAlign: 'center', padding: 0,
    textStyle: {fontSize: 6.2, fontWeight: 'normal', color: '#111', lineHeight: 8.6, fontFamily: FONT, rich: richText}
  });
  legends.push({
    data: [{name: 'Stellar', icon: DASH_ICON}, {name: 'Dust', icon: DASH_ICON}],
    orient: 'vertical', left: left + 2, top: top + 2.5,
    itemWidth: 11, itemHeight: 1.2, itemGap: 2.6, padding: [2.5, 4, 2.5, 3], symbolKeepAspect: false,
    textStyle: {fontSize: 6.3, color: '#222', fontFamily: FONT, padding: [0, 0, 0, -1]},
    borderColor: '#d6d6d6', borderWidth: 0.8, borderRadius: 2, backgroundColor: 'rgba(255,255,255,0.85)',
    selectedMode: false
  });
});
series.push({name: 'Stellar', type: 'line', xAxisIndex: 0, yAxisIndex: 0, data: [], symbol: 'none',
  itemStyle: {color: '#8080ff'}, lineStyle: {color: '#8080ff', type: [4, 2], width: 1.4}});
series.push({name: 'Dust', type: 'line', xAxisIndex: 0, yAxisIndex: 0, data: [], symbol: 'none',
  itemStyle: {color: '#ff1a1a'}, lineStyle: {color: '#ff1a1a', type: [4, 2], width: 1.4}});

chart.setOption({
  animation: false,
  backgroundColor: '#ffffff',
  textStyle: {fontFamily: FONT},
  title: titles, legend: legends, grid: grids, xAxis: xAxes, yAxis: yAxes, series
});
</script></body></html>
